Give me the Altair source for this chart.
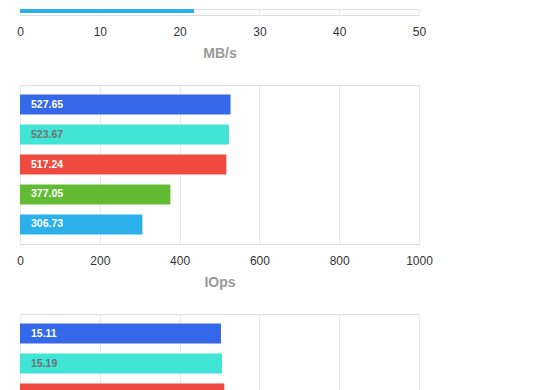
import altair as alt
import pandas as pd

series = ["s1", "s2", "s3", "s4", "s5"]
colors = ["#3568e8", "#40e5d6", "#ef4a40", "#63bb33", "#2bb0ec"]
text_colors = ["#ffffff", "#707070", "#ffffff", "#ffffff", "#ffffff"]

# top chart (MB/s): only the last bar is visible in the crop
mbs_series = ["s5"]
mbs_values = [21.8]
mbs_ticks = [0, 10, 20, 30, 40, 50]

# middle chart (IOps)
iops_series = ["s1", "s2", "s3", "s4", "s5"]
iops_values = [527.65, 523.67, 517.24, 377.05, 306.73]
iops_ticks = [0, 200, 400, 600, 800, 1000]

# bottom chart: only the first bars are visible
lat_series = ["s1", "s2", "s3"]
lat_values = [15.11, 15.19, 15.36]
lat_labelled = ["s1", "s2"]
lat_ticks = [0, 6, 12, 18, 24, 30]

FONT = "Liberation Sans"
W = 399
H = 159


def x_axis(ticks, title, show):
    if not show:
        return alt.Axis(values=ticks, title=None, labels=False, grid=True,
                        gridColor="#e8e8e8", domain=False, ticks=False)
    return alt.Axis(values=ticks, title=title, grid=True, gridColor="#e8e8e8",
                    domain=False, ticks=False, labelPadding=11, format="d",
                    labelFont=FONT, labelFontSize=12, labelColor="#333333",
                    labelFlush=False,
                    titleFont=FONT, titleFontSize=14, titleFontWeight="bold",
                    titleColor="#999999", titlePadding=9)


def panel(names, values, ticks, title, labelled, show_axis=True):
    df = pd.DataFrame({
        "series": names,
        "value": values,
        "label": [f"{v:.2f}" for v in values],
    })
    df["show"] = df["series"].isin(labelled)
    yscale = alt.Scale(domain=series, paddingInner=1 / 3, paddingOuter=0.3167)
    xscale = alt.Scale(domain=[ticks[0], ticks[-1]], nice=False)
    base = alt.Chart(df)
    bars = base.mark_bar().encode(
        x=alt.X("value:Q", scale=xscale, axis=x_axis(ticks, title, show_axis)),
        y=alt.Y("series:N", scale=yscale, axis=None, sort=series),
        color=alt.Color("series:N", scale=alt.Scale(domain=series, range=colors), legend=None),
    )
    txt = base.transform_filter("datum.show").mark_text(
        align="left", baseline="middle", dx=11, font=FONT,
        fontSize=10.5, fontWeight="bold").encode(
        x=alt.value(0),
        y=alt.Y("series:N", scale=yscale, axis=None, sort=series),
        text="label:N",
        color=alt.Color("series:N", scale=alt.Scale(domain=series, range=text_colors),
                        legend=None),
    )
    return alt.layer(bars, txt).resolve_scale(color="independent").properties(
        width=W, height=H)


def top_panel(names, values, ticks, title):
    # only the lower edge of the last bar shows above the crop
    idx = [series.index(n) for n in names]
    df = pd.DataFrame({
        "series": names,
        "value": values,
        "lo": [i + 0.3167 for i in idx],
        "hi": [i + 0.9833 for i in idx],
    })
    xscale = alt.Scale(domain=[ticks[0], ticks[-1]], nice=False)
    yscale = alt.Scale(domain=[4.85, 5.05], reverse=True, nice=False, zero=False,
                       clamp=True)
    return alt.Chart(df).mark_rect().encode(
        x=alt.X("value:Q", scale=xscale, axis=x_axis(ticks, title, True)),
        x2=alt.datum(0),
        y=alt.Y("lo:Q", scale=yscale, axis=None),
        y2="hi:Q",
        color=alt.Color("series:N", scale=alt.Scale(domain=series, range=colors), legend=None),
    ).properties(width=W, height=6)


top = top_panel(mbs_series, mbs_values, mbs_ticks, "MB/s")
mid = panel(iops_series, iops_values, iops_ticks, "IOps", iops_series)
bot = panel(lat_series, lat_values, lat_ticks, None, lat_labelled, show_axis=False)

chart = alt.vconcat(top, mid, bot, spacing=23).properties(
    padding={"left": 8, "top": 0, "right": 20, "bottom": 10}
).configure_view(stroke="#b3b3b3", strokeWidth=1).configure(background="white")

chart.save("out.html", embed_options={"renderer": "svg", "actions": False})
